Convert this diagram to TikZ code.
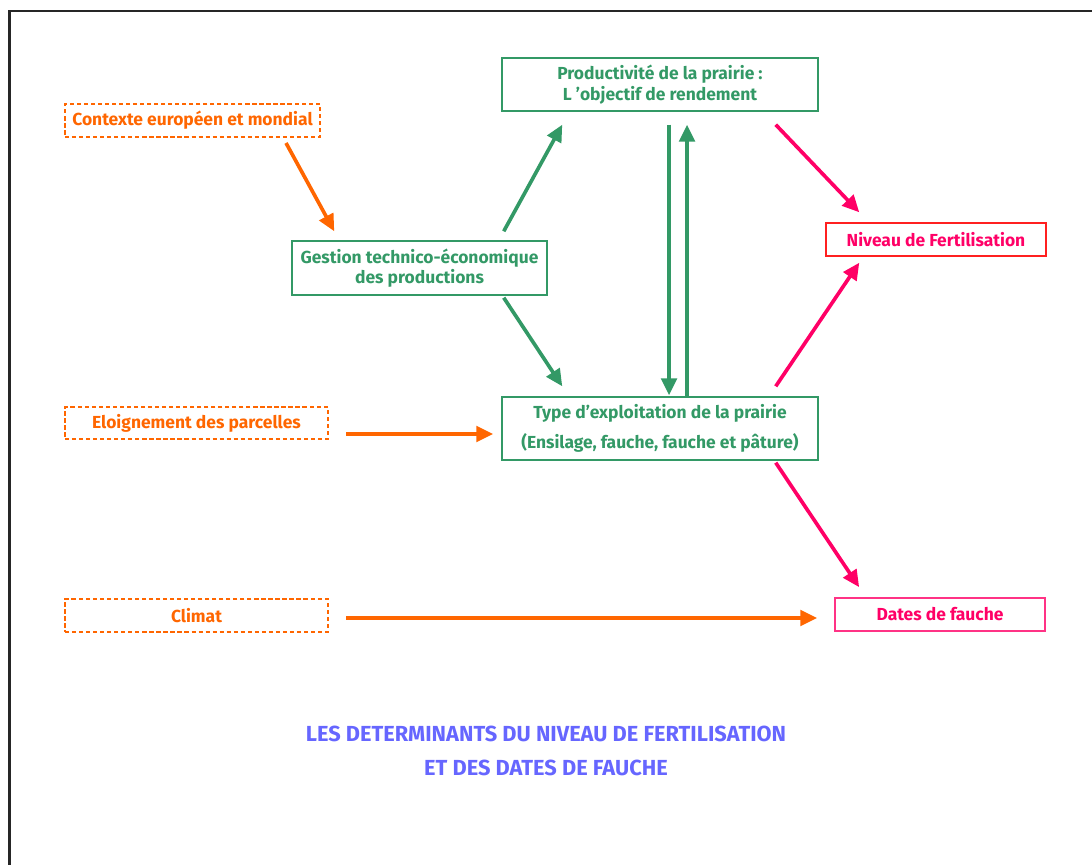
\documentclass[tikz,border=0pt]{standalone}
\usepackage{fontspec}
\setmainfont{Fira Sans}
\usetikzlibrary{arrows.meta,calc}

\definecolor{orline}{HTML}{FF6600}
\definecolor{grline}{HTML}{339966}
\definecolor{pkline}{HTML}{FF0066}
\definecolor{rdline}{HTML}{FF2020}
\definecolor{titleblue}{HTML}{6666FF}

\tikzset{
  boxfont/.style={font=\fontsize{12.4}{14.5}\selectfont\bfseries},
  orbox/.style={boxfont,draw=orline,text=orline,line width=1.4pt,dash pattern=on 3pt off 2pt,inner sep=0pt,align=center},
  grbox/.style={boxfont,draw=grline,text=grline,line width=1pt,inner sep=0pt,align=center},
  rdbox/.style={boxfont,draw=rdline,text=pkline,line width=1pt,inner sep=0pt,align=center},
  pkbox/.style={boxfont,draw=pkline!80,text=pkline,line width=1.2pt,inner sep=0pt,align=center},
  arr/.style={line width=2.6pt,-{Triangle[length=12pt,width=11pt]}},
  orarrow/.style={arr,draw=orline},
  grarrow/.style={arr,draw=grline},
  pkarrow/.style={arr,draw=pkline}
}

\begin{document}
\begin{tikzpicture}[x=0.025cm,y=-0.025cm]
    \useasboundingbox (0,0) rectangle (1092,865);
    \draw[line width=1.8pt,black!85] (9.5,866) -- (9.5,11) -- (1093,11);

    % boxes
    \node[orbox,minimum width=6.375cm,minimum height=0.825cm] (ctx) at (192.5,120.5) {Contexte européen et mondial};
    \node[grbox,minimum width=7.9cm,minimum height=1.325cm] (prod) at (660,84.5) {Productivité de la prairie :\\L 'objectif de rendement};
    \node[grbox,minimum width=6.375cm,minimum height=1.35cm] (gest) at (419.5,268) {Gestion technico-économique\\des productions};
    \node[rdbox,minimum width=5.5cm,minimum height=0.825cm] (niv) at (936,239.5) {Niveau de Fertilisation};
    \node[orbox,minimum width=6.575cm,minimum height=0.8cm] (elo) at (196.5,423) {Eloignement des parcelles};
    \node[grbox,minimum width=7.9cm,minimum height=1.575cm] (type) at (660,428.5) {Type d'exploitation de la prairie\\[6.5pt](Ensilage, fauche, fauche et pâture)};
    \node[orbox,minimum width=6.575cm,minimum height=0.825cm] (clim) at (196.5,615.5) {Climat};
    \node[pkbox,minimum width=5.25cm,minimum height=0.825cm] (dates) at (940,614.5) {Dates de fauche};

    \node[font=\fontsize{15.5}{24}\selectfont\bfseries,text=titleblue,align=center] (title) at (546,751)
        {LES DETERMINANTS DU NIVEAU DE FERTILISATION\\ET DES DATES DE FAUCHE};

    % arrows
    \draw[orarrow] ($(ctx.south east)+(-35,5)$) -- ($(gest.north west)+(43,-9)$);
    \draw[grarrow] ($(gest.north east)+(-44,-9)$) -- ($(prod.south west)+(61,13)$);
    \draw[grarrow] ($(gest.south east)+(-44,2)$) -- ($(type.north west)+(61,-10)$);
    \draw[grarrow] ($(prod.south)+(9,13)$) -- ($(type.north)+(9,-1)$);
    \draw[grarrow] ($(type.north)+(27,0)$) -- ($(prod.south)+(27,13)$);
    \draw[pkarrow] ($(prod.south east)+(-43,13)$) -- ($(niv.north west)+(34,-10)$);
    \draw[pkarrow] ($(type.north east)+(-43,-10)$) -- ($(niv.south west)+(34,6)$);
    \draw[pkarrow] ($(type.south east)+(-43,2)$) -- ($(dates.north west)+(25,-10)$);
    \draw[orarrow] ($(elo.east)+(17,11)$) -- ($(type.west)+(-8,5.5)$);
    \draw[orarrow] ($(clim.east)+(17,2.5)$) -- ($(dates.west)+(-17,3.5)$);
\end{tikzpicture}
\end{document}
